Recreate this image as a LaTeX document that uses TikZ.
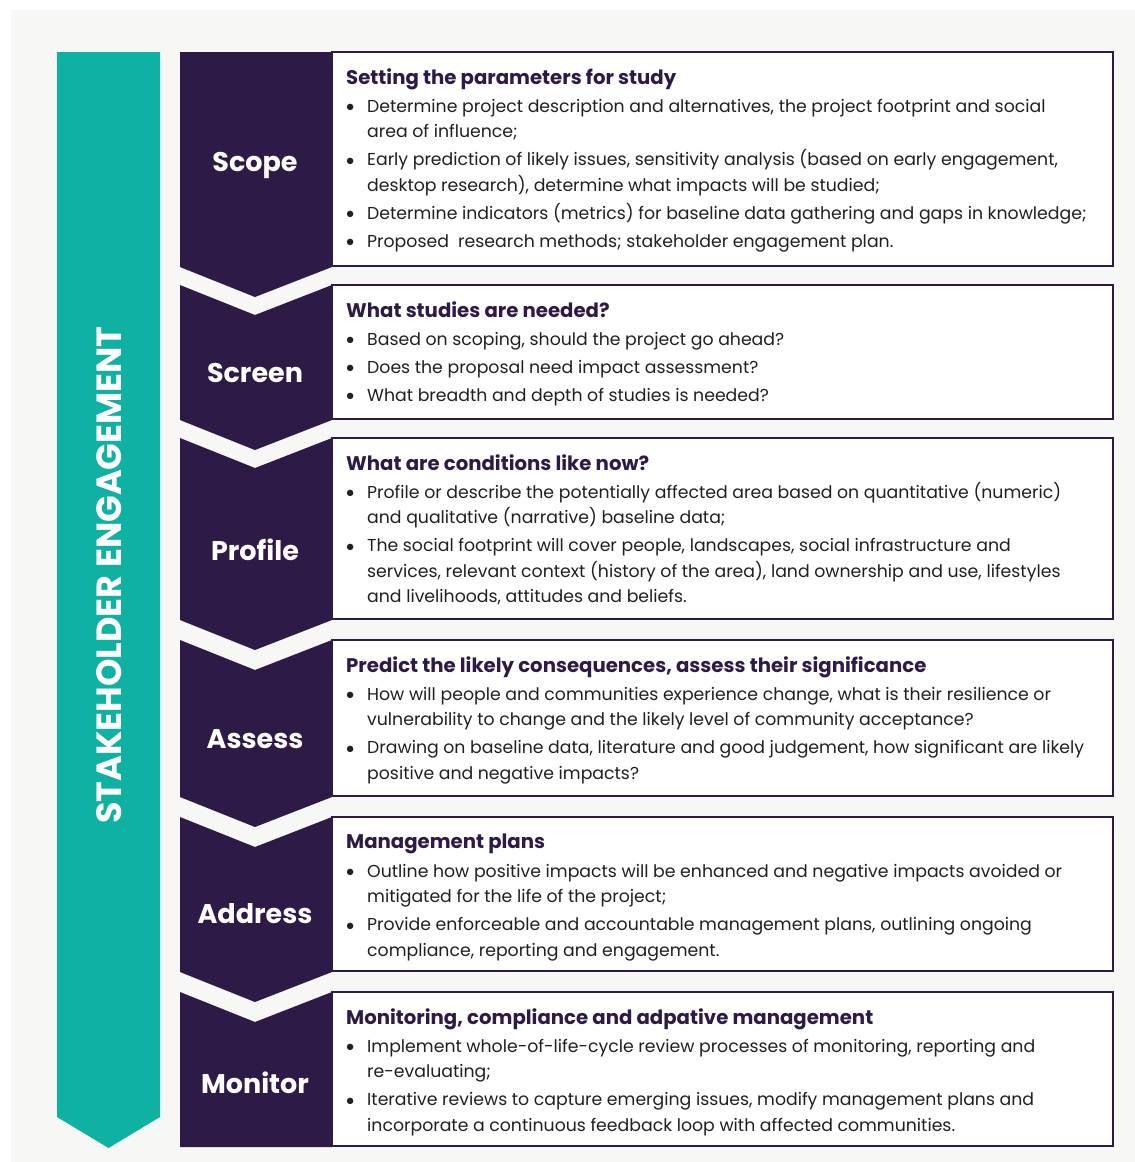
\documentclass[tikz,border=0pt]{standalone}
\usepackage{fontspec}
\setmainfont{Poppins}
\usetikzlibrary{positioning}
\definecolor{deeppurple}{RGB}{46,26,71}
\definecolor{seateal}{RGB}{15,177,163}
\definecolor{paper}{RGB}{247,247,245}
\definecolor{inkgray}{RGB}{35,31,32}
\newcommand\bul{\makebox[21pt][l]{\raisebox{0.5pt}{\scalebox{0.95}{$\bullet$}}}}
\newcommand\cnt{\hspace*{21pt}}

\begin{document}
\begin{tikzpicture}[x=1pt,y=-1pt,
  stagelabel/.style={text=white, font=\fontsize{27}{30}\selectfont\bfseries},
  stagebox/.style={draw=deeppurple, line width=2.2pt, fill=white},
  heading/.style={anchor=base west, inner sep=0pt, text=deeppurple, font=\fontsize{19.7}{22}\selectfont\bfseries},
  body/.style={anchor=north west, align=left, inner sep=0pt, text=inkgray, font=\fontsize{17.3}{25.5}\selectfont}]
\useasboundingbox (0,0) rectangle (1135,1162);
\fill[paper] (11,10) rectangle (1135,1162);
% side arrow
\fill[seateal] (57,52) -- (160,52) -- (160,1117) -- (108.5,1148) -- (57,1117) -- cycle;
\node[rotate=90, text=white, font=\fontsize{35}{38}\selectfont\bfseries] (engage) at (109,575) {STAKEHOLDER ENGAGEMENT};
% chevrons
\foreach \ya/\yb/\dt/\db in {52/267/0/30, 285/420/30/30, 438/620/30/30, 640/797/30/30, 817/972/30/30, 992/1147/30/0}
  \fill[deeppurple] (180,\ya) -- (255,\ya+\dt) -- (332,\ya) -- (332,\yb) -- (255,\yb+\db) -- (180,\yb) -- cycle;
\node[stagelabel] (scope) at (255,165) {Scope};
\node[stagelabel] (screen) at (255,373) {Screen};
\node[stagelabel] (profile) at (255,550) {Profile};
\node[stagelabel] (assess) at (255,739) {Assess};
\node[stagelabel] (address) at (255,914) {Address};
\node[stagelabel] (monitor) at (255,1083) {Monitor};
% boxes
\foreach \ya/\yb in {52/266, 285/419, 438/619, 640/796, 817/971, 992/1146}
  \draw[stagebox] (332,\ya) rectangle (1113,\yb);
% scope
\node[heading] (scopehead) at (346,84) {Setting the parameters for study};
\node[body] (scopetext) at (346,94) {\strut\bul Determine project description and alternatives, the project footprint and social\\
\cnt area of influence;\\[2.5pt]
\bul Early prediction of likely issues, sensitivity analysis (based on early engagement,\\
\cnt desktop research), determine what impacts will be studied;\\[2.5pt]
\bul Determine indicators (metrics) for baseline data gathering and gaps in knowledge;\\[2.5pt]
\bul Proposed\ \ research methods; stakeholder engagement plan.};
% screen
\node[heading] (screenhead) at (346,317) {What studies are needed?};
\node[body] (screentext) at (346,327) {\strut\bul Based on scoping, should the project go ahead?\\[2.5pt]
\bul Does the proposal need impact assessment?\\[2.5pt]
\bul What breadth and depth of studies is needed?};
% profile
\node[heading] (profilehead) at (346,470) {What are conditions like now?};
\node[body] (profiletext) at (346,480) {\strut\bul Profile or describe the potentially affected area based on quantitative (numeric)\\
\cnt and qualitative (narrative) baseline data;\\[2.5pt]
\bul The social footprint will cover people, landscapes, social infrastructure and\\
\cnt services, relevant context (history of the area), land ownership and use, lifestyles\\
\cnt and livelihoods, attitudes and beliefs.};
% assess
\node[heading] (assesshead) at (346,672) {Predict the likely consequences, assess their significance};
\node[body] (assesstext) at (346,682) {\strut\bul How will people and communities experience change, what is their resilience or\\
\cnt vulnerability to change and the likely level of community acceptance?\\[2.5pt]
\bul Drawing on baseline data, literature and good judgement, how significant are likely\\
\cnt positive and negative impacts?};
% address
\node[heading] (addresshead) at (346,848) {Management plans};
\node[body] (addresstext) at (346,859) {\strut\bul Outline how positive impacts will be enhanced and negative impacts avoided or\\
\cnt mitigated for the life of the project;\\[2.5pt]
\bul Provide enforceable and accountable management plans, outlining ongoing\\
\cnt compliance, reporting and engagement.};
% monitor
\node[heading] (monitorhead) at (346,1024) {Monitoring, compliance and adpative management};
\node[body] (monitortext) at (346,1034) {\strut\bul Implement whole-of-life-cycle review processes of monitoring, reporting and\\
\cnt re-evaluating;\\[2.5pt]
\bul Iterative reviews to capture emerging issues, modify management plans and\\
\cnt incorporate a continuous feedback loop with affected communities.};
\end{tikzpicture}
\end{document}
